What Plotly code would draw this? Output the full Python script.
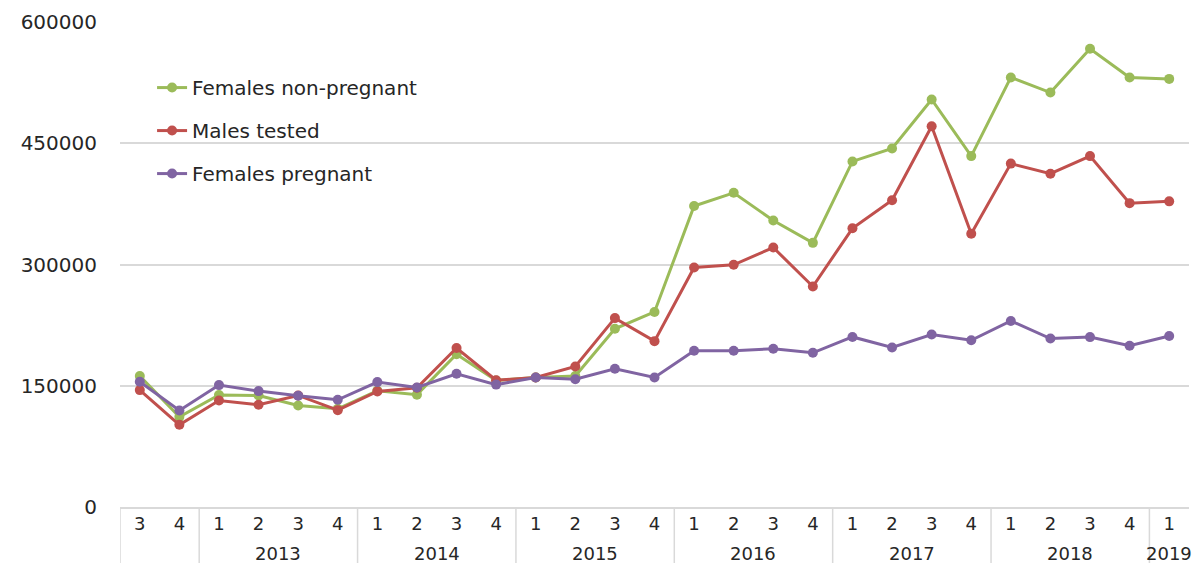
import plotly.graph_objects as go

quarters = ["3", "4", "1", "2", "3", "4", "1", "2", "3", "4", "1", "2", "3", "4",
            "1", "2", "3", "4", "1", "2", "3", "4", "1", "2", "3", "4", "1"]
years = ["", "2013", "2014", "2015", "2016", "2017", "2018", "2019"]
year_counts = [2, 4, 4, 4, 4, 4, 4, 1]

females_non_pregnant = [162000, 111500, 138500, 138000, 125500, 121500, 143800, 139000, 189000,
                        156500, 160300, 162000, 220500, 241300, 372300, 388700, 354400, 326800,
                        427500, 443600, 504200, 434100, 531400, 512700, 567000, 531400, 529600]
males_tested = [144600, 101700, 131800, 126400, 138000, 119800, 143000, 147500, 196700,
                156800, 160300, 173900, 233700, 205200, 296300, 299600, 321000, 272800,
                344800, 379400, 471000, 338100, 424800, 412300, 434100, 375900, 378100]
females_pregnant = [155000, 119400, 150800, 143400, 137600, 132600, 154500, 147900, 164900,
                    151400, 160200, 158000, 171000, 160300, 193300, 193300, 195700, 190800,
                    210400, 197300, 213300, 206200, 230200, 208400, 210200, 199500, 211500]

x = list(range(len(quarters)))
FONT = "DejaVu Sans"
TXT = "#262626"
GRID = "#D9D9D9"

fig = go.Figure()
series = [("Females non-pregnant", females_non_pregnant, "#9BBB59"),
          ("Males tested", males_tested, "#C0504D"),
          ("Females pregnant", females_pregnant, "#8064A2")]
for i, (name, vals, col) in enumerate(series):
    fig.add_trace(go.Scatter(x=x, y=vals, name=name, mode="lines+markers",
                             line=dict(color=col, width=3),
                             marker=dict(color=col, size=10),
                             legendgroup=f"g{i}"))

shapes = []
annotations = []
start = 0
shapes.append(dict(type="line", xref="x", yref="paper", x0=-0.5, x1=-0.5, y0=0, y1=-0.12,
                   line=dict(color=GRID, width=1.5)))
for yr, cnt in zip(years, year_counts):
    end = start + cnt
    shapes.append(dict(type="line", xref="x", yref="paper", x0=end - 0.5, x1=end - 0.5,
                       y0=0, y1=-0.12, line=dict(color=GRID, width=1.5)))
    if yr:
        annotations.append(dict(x=(start + end - 1) / 2, y=-0.095, xref="x", yref="paper",
                                text=yr, showarrow=False, yanchor="middle",
                                font=dict(family=FONT, size=18, color=TXT)))
    start = end
shapes = shapes[:-1]

fig.update_layout(
    width=1197, height=563,
    margin=dict(l=120, r=8, t=22, b=56),
    paper_bgcolor="white", plot_bgcolor="white",
    font=dict(family=FONT, size=20, color=TXT),
    showlegend=True,
    legend=dict(x=0.03, y=0.905, xanchor="left", yanchor="top",
                font=dict(family=FONT, size=20, color=TXT),
                tracegroupgap=14, bgcolor="rgba(0,0,0,0)"),
    shapes=shapes, annotations=annotations,
)
fig.update_xaxes(range=[-0.5, len(x) - 0.5], tickmode="array", tickvals=x, ticktext=quarters,
                 showgrid=False, showline=True, linecolor=GRID, linewidth=1.5,
                 ticks="", tickfont=dict(family=FONT, size=18, color=TXT), zeroline=False)
fig.update_yaxes(range=[0, 600000], tickmode="array", tickvals=[0, 150000, 300000, 450000, 600000],
                 ticktext=["0", "150000", "300000", "450000", "600000"],
                 showgrid=True, gridcolor=GRID, gridwidth=1.5, zeroline=False, showline=False,
                 ticks="", ticklabelstandoff=22, tickfont=dict(family=FONT, size=20, color=TXT))

fig.write_html("out.html")
